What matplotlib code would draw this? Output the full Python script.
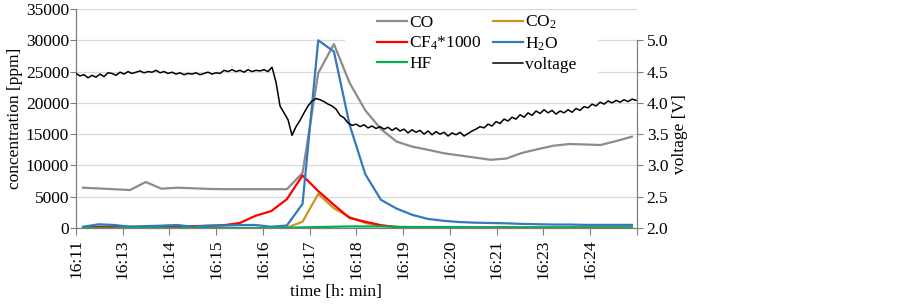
import numpy as np
import matplotlib
matplotlib.use('Agg')
import matplotlib.pyplot as plt
from matplotlib.patches import Rectangle

plt.rcParams['font.family'] = ['Liberation Serif', 'DejaVu Serif']
plt.rcParams['mathtext.fontset'] = 'custom'
plt.rcParams['mathtext.rm'] = 'Liberation Serif'
plt.rcParams['mathtext.it'] = 'Liberation Serif:italic'

# ---------------- data ----------------
time_labels = ['16:11', '16:13', '16:14', '16:15', '16:16', '16:17',
               '16:18', '16:19', '16:20', '16:21', '16:23', '16:24']

co = [6440, 6320, 6190, 6070, 7350, 6280, 6440, 6350, 6250, 6200, 6200, 6200,
      6200, 6200, 8790, 24770, 29400, 23200, 18800, 15800, 13800, 13000, 12500,
      11950, 11600, 11250, 10900, 11100, 12000, 12600, 13150, 13420, 13350,
      13260, 13900, 14590]
co2 = [0, 0, 0, 0, 0, 0, 0, 0, 0, 0, 0, 0, 0, 50, 1000, 5450, 3150, 1750, 800,
       350, 150, 80, 50, 30, 30, 20, 20, 20, 20, 20, 20, 20, 20, 20, 20, 20]
cf4 = [150, 200, 150, 200, 150, 250, 300, 300, 350, 450, 800, 1950, 2700, 4600,
       8400, 5900, 3700, 1600, 1000, 450, 150, 80, 50, 50, 50, 50, 80, 100, 50,
       50, 50, 50, 50, 50, 50, 50]
h2o = [200, 590, 480, 200, 300, 370, 480, 200, 370, 400, 480, 480, 200, 400,
       3850, 30000, 28200, 16500, 8600, 4500, 3100, 2100, 1450, 1150, 950, 850,
       800, 750, 650, 600, 550, 550, 500, 500, 500, 500]
hf = [0, 0, 0, 0, 0, 0, 0, 0, 0, 0, 0, 0, 0, 50, 100, 150, 200, 250, 250, 250,
      200, 150, 150, 150, 150, 100, 100, 100, 100, 100, 100, 100, 100, 100, 100, 100]

voltage = [4.47, 4.43, 4.45, 4.40, 4.44, 4.41, 4.46, 4.42, 4.48,
           4.47, 4.44, 4.49, 4.46, 4.50, 4.47, 4.49, 4.51, 4.48, 4.50,
           4.49, 4.52, 4.48, 4.50, 4.47, 4.49, 4.46, 4.48, 4.45, 4.47,
           4.46, 4.48, 4.45, 4.47, 4.49, 4.46, 4.48, 4.47, 4.52, 4.50,
           4.53, 4.50, 4.52, 4.49, 4.53, 4.50, 4.52, 4.51, 4.53, 4.50,
           4.57, 4.33, 3.95, 3.84, 3.73, 3.48, 3.62, 3.72, 3.84, 3.95,
           4.03, 4.07, 4.05, 4.02, 3.98, 3.95, 3.90, 3.80, 3.76, 3.68,
           3.64, 3.66,
           3.62, 3.65, 3.60, 3.63, 3.59, 3.62, 3.58, 3.61, 3.56, 3.60,
           3.55, 3.58, 3.52, 3.57, 3.53, 3.56, 3.50, 3.55, 3.49, 3.54,
           3.50, 3.53, 3.47, 3.52, 3.49, 3.53, 3.47, 3.51, 3.55, 3.58,
           3.62, 3.60, 3.66, 3.63, 3.70, 3.67, 3.74, 3.71, 3.77, 3.74,
           3.81, 3.77, 3.84, 3.80, 3.87, 3.83, 3.89, 3.84, 3.88, 3.82,
           3.87, 3.84, 3.89, 3.85, 3.91, 3.88, 3.94, 3.92, 3.98, 3.95,
           4.01, 3.98, 4.03, 4.00, 4.04, 4.01, 4.05, 4.02, 4.06, 4.04]

gas_x = np.linspace(0.15, 11.89, len(co))
volt_x = np.linspace(0, 11.98, len(voltage))

# ---------------- figure ----------------
fs = 12.5
fig = plt.figure(figsize=(9.03, 3.06), dpi=100)
ax = fig.add_axes([76/903, 1-228/306, 561/903, 219/306])
ax.set_xlim(0, 12)
ax.set_ylim(0, 35000)
ax.set_yticks(np.arange(0, 35001, 5000))
ax.yaxis.grid(True, color='#D9D9D9', lw=0.9)
ax.set_axisbelow(True)

# white area behind legend (hides gridlines)
ax.add_patch(Rectangle((0.4795, 0.70), 0.451, 0.275, transform=ax.transAxes,
                       facecolor='white', edgecolor='none', zorder=1))

l_co, = ax.plot(gas_x, co, color='#8C8C8C', lw=1.6, zorder=2)
l_co2, = ax.plot(gas_x, co2, color='#C8961E', lw=1.6, zorder=2)
l_cf4, = ax.plot(gas_x, cf4, color='#FF0000', lw=1.6, zorder=2)
l_h2o, = ax.plot(gas_x, h2o, color='#3478C0', lw=1.6, zorder=2)
l_hf, = ax.plot(gas_x, hf, color='#00B050', lw=1.6, zorder=2)

ax.set_xticks(np.arange(0, 13))
ax.set_xticklabels(time_labels + [''])
ax.tick_params(axis='x', direction='out', length=5, width=0.8, color='#7F7F7F',
               pad=3, labelsize=fs, labelrotation=90)
ax.tick_params(axis='y', direction='out', length=4, width=0.8, color='#7F7F7F',
               pad=1, labelsize=fs)
for s in ['top', 'right']:
    ax.spines[s].set_visible(False)
for s in ['left', 'bottom']:
    ax.spines[s].set_color('#7F7F7F')
    ax.spines[s].set_linewidth(0.9)

ax.set_ylabel('concentration [ppm]', fontsize=fs)
ax.yaxis.set_label_coords(-0.094, 0.5)
ax.set_xlabel('time [h: min]', fontsize=fs)
ax.xaxis.set_label_coords(0.4635, -0.255)

ax2 = ax.twinx()
ax2.set_ylim(2.0, 5.5)
ax2.set_yticks(np.arange(2.0, 5.01, 0.5))
ax2.set_yticklabels(['%.1f' % v for v in np.arange(2.0, 5.01, 0.5)])
l_v, = ax2.plot(volt_x, voltage, color='black', lw=1.1)
for s in ['top', 'left', 'bottom']:
    ax2.spines[s].set_visible(False)
ax2.spines['right'].set_bounds(2.0, 5.0)
ax2.spines['right'].set_color('#7F7F7F')
ax2.spines['right'].set_linewidth(0.9)
ax2.tick_params(axis='y', direction='out', length=4, width=0.8, color='#7F7F7F',
                pad=3, labelsize=fs)
ax2.set_ylabel('voltage [V]', fontsize=fs)
ax2.yaxis.set_label_coords(1.063, 0.43)

handles = [l_co, l_cf4, l_hf, l_co2, l_h2o, l_v]
labels = ['CO', 'CF$_4$*1000', 'HF', 'CO$_2$', 'H$_2$O', 'voltage']
ax.legend(handles, labels, ncol=2, loc='upper left',
          bbox_to_anchor=(377/903, 1-14/306), bbox_transform=fig.transFigure,
          frameon=False, fontsize=fs, handlelength=1.75, handletextpad=0.1,
          columnspacing=0.65, labelspacing=0.22, borderpad=0, borderaxespad=0)

fig.savefig('out.png', dpi=100)
